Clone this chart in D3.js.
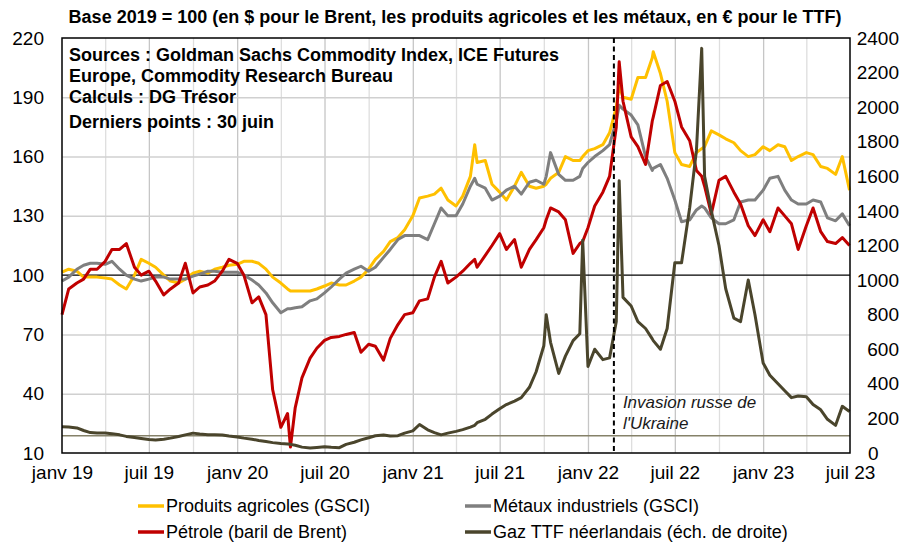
<!DOCTYPE html>
<html>
<head>
<meta charset="utf-8">
<script src="https://cdn.jsdelivr.net/npm/d3@7"></script>
<style>
  body { margin: 0; background: #fff; }
</style>
</head>
<body>
<div id="container"></div>
<script>
// semi-monthly points, plus a few extra dates for the spikes
const dates = [
    "2019-01-01","2019-01-15","2019-02-01","2019-02-15","2019-03-01","2019-03-15","2019-04-01","2019-04-15","2019-05-01","2019-05-15","2019-06-01","2019-06-15",
    "2019-07-01","2019-07-15","2019-08-01","2019-08-15","2019-09-01","2019-09-15","2019-10-01","2019-10-15","2019-11-01","2019-11-15","2019-12-01","2019-12-15",
    "2020-01-01","2020-01-15","2020-02-01","2020-02-15","2020-03-01","2020-03-15","2020-04-01","2020-04-15","2020-04-21","2020-05-01","2020-05-15","2020-06-01","2020-06-15",
    "2020-07-01","2020-07-15","2020-08-01","2020-08-15","2020-09-01","2020-09-15","2020-10-01","2020-10-15","2020-11-01","2020-11-15","2020-12-01","2020-12-15",
    "2021-01-01","2021-01-15","2021-02-01","2021-02-15","2021-03-01","2021-03-15","2021-04-01","2021-04-15","2021-05-01","2021-05-10","2021-05-15","2021-06-01","2021-06-15",
    "2021-07-01","2021-07-15","2021-08-01","2021-08-15","2021-09-01","2021-09-15","2021-10-01","2021-10-06","2021-10-15","2021-11-01","2021-11-15","2021-12-01","2021-12-15","2021-12-21",
    "2022-01-01","2022-01-15","2022-02-01","2022-02-15","2022-03-01","2022-03-07","2022-03-15","2022-04-01","2022-04-15","2022-05-01","2022-05-15","2022-05-17","2022-06-01","2022-06-15",
    "2022-07-01","2022-07-15","2022-08-01","2022-08-15","2022-08-26","2022-09-01","2022-09-15","2022-10-01","2022-10-15","2022-11-01","2022-11-15","2022-12-01","2022-12-15",
    "2023-01-01","2023-01-15","2023-02-01","2023-02-15","2023-03-01","2023-03-15","2023-04-01","2023-04-15","2023-05-01","2023-05-15","2023-06-01","2023-06-15","2023-06-30"
];

const agri = [
    101.5, 103, 102, 99, 99, 99, 98.5, 98, 95, 93, 100, 108, 106, 104, 100, 97, 96, 98, 101, 102, 101, 103, 104, 105,
    105.5, 107, 107, 106, 103, 99, 96, 93, 92, 92, 92, 92, 93, 94.5, 96, 95, 95, 97, 99, 103, 108, 112, 117, 119, 123,
    130, 139, 140, 141, 144, 138, 135, 140, 150, 166, 157, 158, 146, 142, 138, 145, 152, 145, 144, 145, 146, 149, 152, 160, 158, 158, 160,
    163, 164, 166, 172, 185, 196, 190, 189, 200, 200, 210, 213, 202, 188, 162, 156, 155, 162, 164, 165, 173, 171, 169, 167, 163, 160, 161,
    165, 163, 166, 165, 158, 160, 162, 161, 155, 154, 151, 160, 143
];

const metaux = [
    97, 99, 103, 105, 106, 106, 105.5, 107, 103, 100, 98, 97, 98, 99, 99, 98, 98, 98, 99.5, 100.5, 102, 102, 101.5, 101.5,
    101.5, 100, 97.5, 95, 91, 86, 81, 83, 83, 83.5, 84, 87, 88, 91, 94, 98, 101, 103, 104.5, 102, 104, 109, 113, 118, 120,
    120, 120, 118, 126, 134, 130, 130, 136, 145, 149, 146, 144, 138, 140, 143, 145, 141, 147, 148, 146, 150, 162, 151, 148, 148, 150, 154,
    157, 160, 163, 166, 178, 186, 184, 181, 176, 160, 153, 154, 156, 149, 138, 127, 128, 133, 135, 134, 129, 126, 126, 128, 137, 138, 138,
    143, 149, 150, 143, 138, 136, 136, 138, 137, 129, 127.5, 131, 125
];

const brent = [
    80, 93, 96, 98, 103, 103, 107, 113, 113, 116, 104, 100, 102, 97, 90, 93, 96, 106, 91, 94, 95, 97, 102, 108,
    106, 100, 86, 89, 80, 42, 23, 30, 13, 33, 48, 58, 63, 67, 68.5, 69, 70, 71, 61, 65, 64, 57, 68, 75, 80,
    81, 87, 88, 99, 107, 96, 99, 102, 106, 108, 104, 110, 115, 121, 113, 118, 104, 113, 118, 124, 128, 134, 132, 128, 111, 116, 117,
    124, 135, 142, 150, 175, 208, 188, 170, 165, 156, 178, 180, 196, 198, 188, 175, 168, 153, 150, 145, 131, 148, 150, 142, 136, 125, 120,
    128, 122, 134, 130, 126, 113, 125, 134, 122, 117, 116, 119, 115
];

// right axis
const ttf = [
    152, 150, 145, 130, 118, 116, 116, 112, 105, 96, 90, 84, 78, 75, 80, 86, 95, 105, 115, 110, 106, 105, 104, 98,
    92, 86, 80, 72, 66, 60, 55, 52, 50, 45, 34, 29, 32, 36, 33, 31, 50, 62, 76, 88, 100, 104, 98, 100, 115,
    128, 165, 134, 118, 105, 115, 125, 135, 150, 160, 175, 195, 225, 256, 280, 300, 320, 380, 470, 620, 800, 640, 460, 560, 650, 690, 1230,
    500, 600, 540, 550, 760, 1575, 900, 850, 760, 720, 660, 650, 600, 720, 1100, 1100, 1420, 1750, 2340, 1600, 1400, 1200, 950, 780, 760, 1000, 800,
    520, 450, 400, 360, 320, 330, 325, 280, 250, 195, 160, 270, 240
];

const leftTicks = [10, 40, 70, 100, 130, 160, 190, 220];
const rightTicks = [0, 200, 400, 600, 800, 1000, 1200, 1400, 1600, 1800, 2000, 2200, 2400];
const xTicks = ["2019-01-01", "2019-07-01", "2020-01-01", "2020-07-01", "2021-01-01", "2021-07-01", "2022-01-01", "2022-07-01", "2023-01-01", "2023-07-01"];
const xTickLabels = ["janv 19", "juil 19", "janv 20", "juil 20", "janv 21", "juil 21", "janv 22", "juil 22", "janv 23", "juil 23"];
const invasionDate = "2022-02-24";

const title = "Base 2019 = 100 (en $ pour le Brent, les produits agricoles et les métaux, en € pour le TTF)";
const sources = ["Sources : Goldman Sachs Commodity Index, ICE Futures", "Europe, Commodity Research Bureau", "Calculs : DG Trésor"];
const lastPoint = "Derniers points : 30 juin";
const annotation = ["Invasion russe de", "l'Ukraine"];

const series = [
    {key: "agri", label: "Produits agricoles (GSCI)", color: "#FFC000", right: false},
    {key: "metaux", label: "Métaux industriels (GSCI)", color: "#7F7F7F", right: false},
    {key: "brent", label: "Pétrole (baril de Brent)", color: "#C00000", right: false},
    {key: "ttf", label: "Gaz TTF néerlandais (éch. de droite)", color: "#4A452C", right: true}
];

const parse = d3.timeParse("%Y-%m-%d");
const data = dates.map((d, i) => ({date: parse(d), agri: agri[i], metaux: metaux[i], brent: brent[i], ttf: ttf[i]}));

const width = 915, height = 542;
const plot = {left: 62, right: 850, top: 38, bottom: 453};
const font = "Arial, 'Liberation Sans', sans-serif";

var x = d3.scaleTime()
    .domain([parse("2019-01-01"), parse("2023-07-01")])
    .range([plot.left, plot.right]);

var yLeft = d3.scaleLinear().domain([10, 220]).range([plot.bottom, plot.top]);
var yRight = d3.scaleLinear().domain([0, 2400]).range([plot.bottom, plot.top]);

var svg = d3.select("#container").append("svg")
    .attr("width", width)
    .attr("height", height)
    .style("font-family", font);

/* grid */
var quarters = d3.timeMonth.every(3).range(parse("2019-04-01"), parse("2023-07-01"));

svg.append("g")
    .attr("transform", `translate(0, ${plot.bottom})`)
    .call(d3.axisBottom(x).tickValues(quarters).tickSize(-(plot.bottom - plot.top)).tickFormat(""))
    .call(g => g.select(".domain").remove())
    .selectAll(".tick line")
    .attr("stroke", d => d.getMonth() % 6 === 0 ? "#c6c6c6" : "#dedede")
    .attr("stroke-width", 1.3);

svg.append("g")
    .attr("transform", `translate(${plot.left}, 0)`)
    .call(d3.axisLeft(yLeft).tickValues(leftTicks.filter(v => v !== 10 && v !== 100 && v !== 220))
        .tickSize(-(plot.right - plot.left)).tickFormat(""))
    .call(g => g.select(".domain").remove())
    .selectAll(".tick line")
    .attr("stroke", "#d0d0d0")
    .attr("stroke-width", 1.5);

// base 100 lines (left in black, right in olive)
svg.append("line")
    .attr("x1", plot.left).attr("x2", plot.right)
    .attr("y1", yLeft(100)).attr("y2", yLeft(100))
    .attr("stroke", "#000").attr("stroke-width", 1.2);

svg.append("line")
    .attr("x1", plot.left).attr("x2", plot.right)
    .attr("y1", yRight(100)).attr("y2", yRight(100))
    .attr("stroke", "#858169").attr("stroke-width", 1.5);

/* lines */
var lines = svg.append("g").attr("class", "lines");

series.forEach(s => {
    var y = s.right ? yRight : yLeft;
    var line = d3.line()
        .x(d => x(d.date))
        .y(d => y(d[s.key]));
    lines.append("path")
        .attr("d", line(data))
        .attr("fill", "none")
        .attr("stroke", s.color)
        .attr("stroke-width", 3)
        .attr("stroke-linejoin", "round");
});

// invasion marker
svg.append("line")
    .attr("x1", x(parse(invasionDate))).attr("x2", x(parse(invasionDate)))
    .attr("y1", plot.top).attr("y2", plot.bottom)
    .attr("stroke", "#000")
    .attr("stroke-width", 2)
    .attr("stroke-dasharray", "5,3.5");

svg.append("g")
    .selectAll("text")
    .data(annotation)
    .enter().append("text")
    .attr("x", x(parse(invasionDate)) + 9)
    .attr("y", (d, i) => 408 + i * 20.5)
    .attr("font-size", 17)
    .attr("font-style", "italic")
    .attr("fill", "#1a1a1a")
    .text(d => d);

// frame
svg.append("rect")
    .attr("x", plot.left).attr("y", plot.top)
    .attr("width", plot.right - plot.left)
    .attr("height", plot.bottom - plot.top)
    .attr("fill", "none")
    .attr("stroke", "#000")
    .attr("stroke-width", 1.5);

/* axes */
svg.append("g")
    .attr("transform", `translate(${plot.left}, 0)`)
    .call(d3.axisLeft(yLeft).tickValues(leftTicks).tickSize(0).tickPadding(18))
    .call(g => g.select(".domain").remove())
    .attr("font-size", 19)
    .attr("font-family", font);

svg.append("g")
    .attr("transform", `translate(${plot.right}, 0)`)
    .call(d3.axisRight(yRight).tickValues(rightTicks).tickFormat(d3.format("d")).tickSize(0))
    .call(g => g.select(".domain").remove())
    .attr("font-size", 19)
    .attr("font-family", font)
    .selectAll(".tick text")
    .attr("text-anchor", d => d === 0 ? "start" : "end")
    .attr("x", d => d === 0 ? 18 : 49);

svg.append("g")
    .attr("transform", `translate(0, ${plot.bottom})`)
    .call(d3.axisBottom(x).tickValues(xTicks.map(parse)).tickFormat((d, i) => xTickLabels[i]).tickSize(0).tickPadding(13))
    .call(g => g.select(".domain").remove())
    .attr("font-size", 19)
    .attr("font-family", font);

/* texts */
svg.append("text")
    .attr("x", 455)
    .attr("y", 23)
    .attr("text-anchor", "middle")
    .attr("font-size", 18)
    .attr("font-weight", "bold")
    .text(title);

svg.append("g")
    .selectAll("text")
    .data(sources)
    .enter().append("text")
    .attr("x", 69)
    .attr("y", (d, i) => 61 + i * 21)
    .attr("font-size", 18)
    .attr("font-weight", "bold")
    .text(d => d);

svg.append("text")
    .attr("x", 69)
    .attr("y", 128)
    .attr("font-size", 18)
    .attr("font-weight", "bold")
    .text(lastPoint);

/* legend */
var legend = svg.append("g").attr("class", "legend");
var legendPos = [[138, 506], [465, 506], [138, 532], [465, 532]];

series.forEach((s, i) => {
    var p = legendPos[i];
    legend.append("line")
        .attr("x1", p[0]).attr("x2", p[0] + 26)
        .attr("y1", p[1]).attr("y2", p[1])
        .attr("stroke", s.color)
        .attr("stroke-width", 3.5);
    legend.append("text")
        .attr("x", p[0] + 28)
        .attr("y", p[1] + 6)
        .attr("font-size", 18)
        .text(s.label);
});
</script>
</body>
</html>
